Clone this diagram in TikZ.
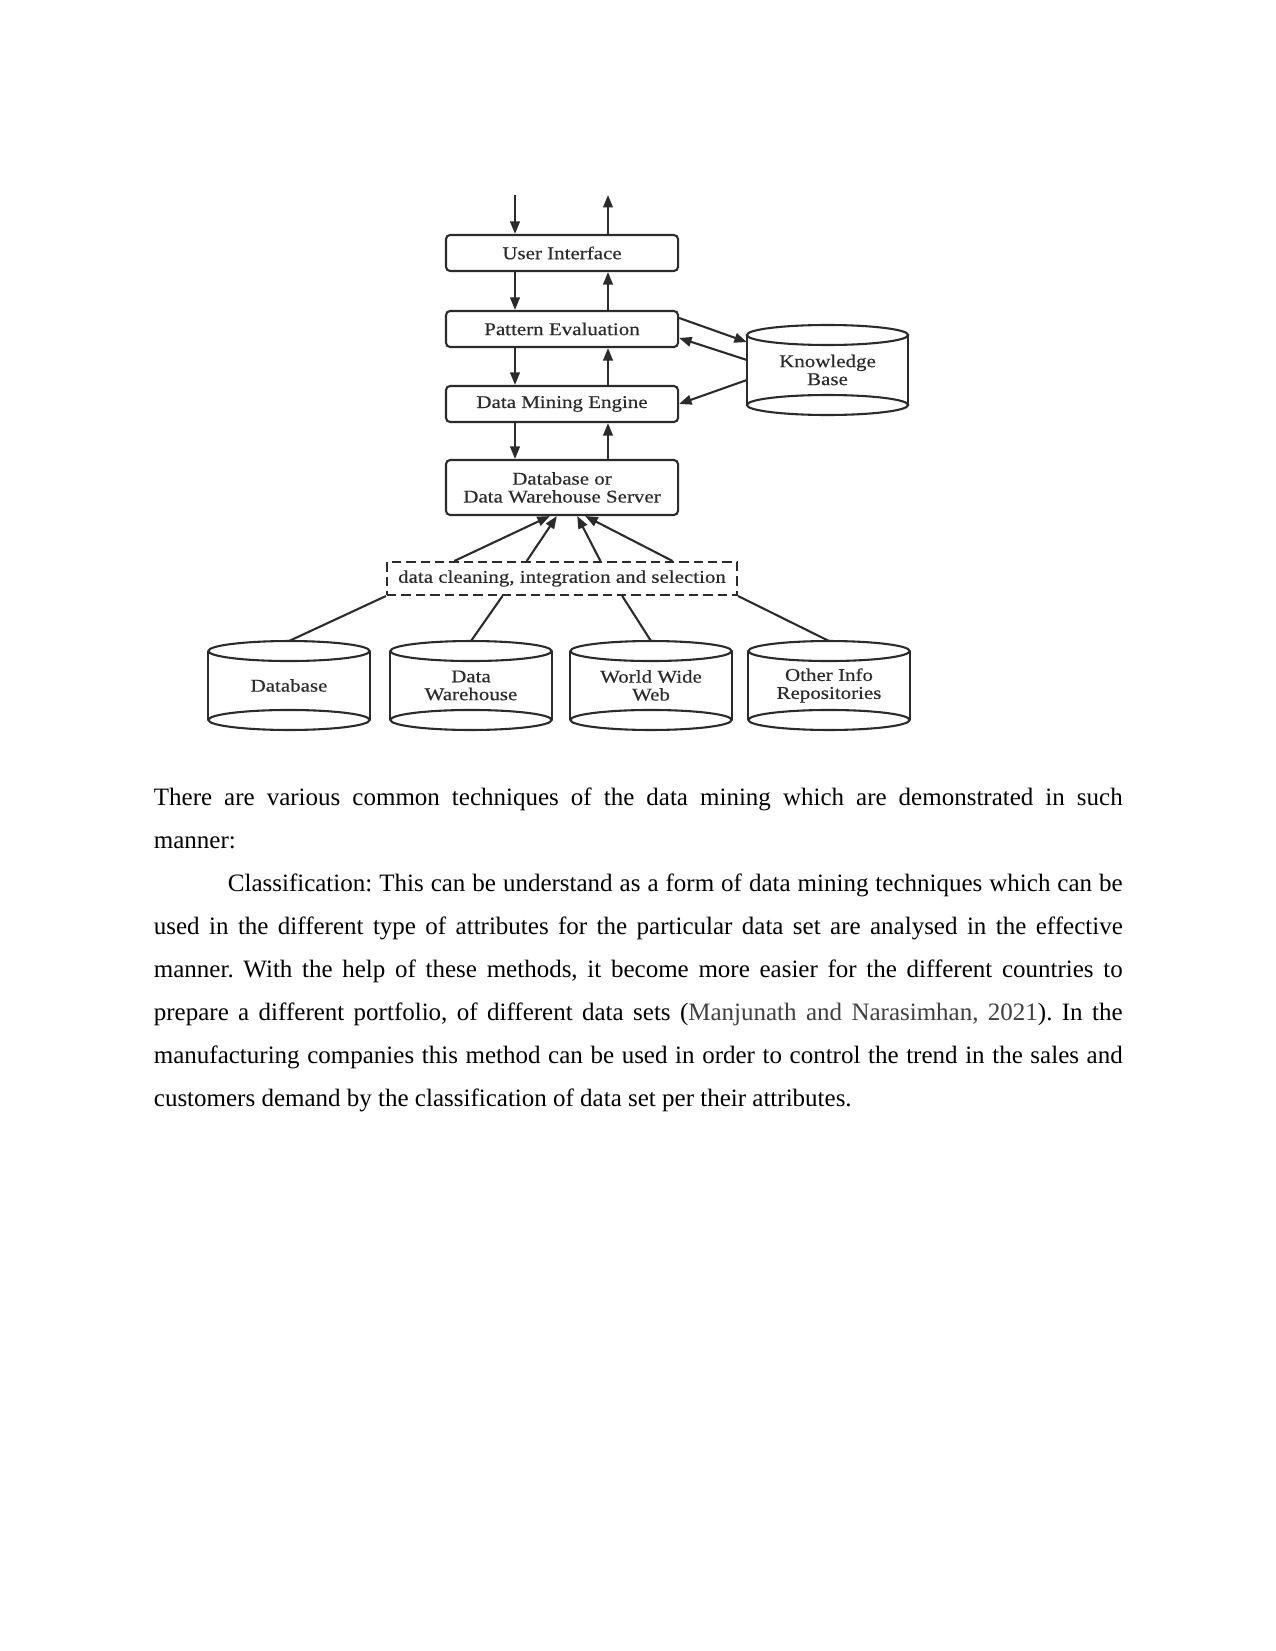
\documentclass[tikz,border=0pt]{standalone}
\usepackage{fontspec}
\setmainfont{Liberation Serif}
\newfontfamily\figfont[FakeStretch=1.17,FakeBold=0.4]{Liberation Serif}
\usepackage{xcolor}
\usetikzlibrary{arrows.meta, positioning, calc}
\definecolor{dmInk}{HTML}{2B2B2B}
\definecolor{dmCite}{HTML}{404040}
\frenchspacing

\begin{document}
\begin{tikzpicture}[
  x=0.48pt, y=-0.48pt,
  stage/.style={draw=dmInk, rounded corners=2pt, line width=1pt, minimum width=111.4pt,
                minimum height=#1, align=center, inner sep=1pt, text=dmInk,
                font=\figfont\fontsize{8.6}{8.6}\selectfont},
  stage/.default=17.3pt,
  store/.style={minimum width=77.4pt, minimum height=#1, align=center, inner sep=0pt,
                outer sep=0pt, text=dmInk, font=\figfont\fontsize{8.6}{8.6}\selectfont},
  flow/.style={draw=dmInk, line width=1pt, -{Triangle[length=6pt,width=4.6pt]}},
  link/.style={draw=dmInk, line width=1pt},
  para/.style={text width=465pt, align=justify, inner sep=0pt, anchor=base west,
               font=\fontsize{12}{20.64}\selectfont},
]
  \path[use as bounding box, fill=white] (0,0) rectangle (1275,1651);

  % mining stages
  \node[stage] (ui)  at (562,253) {User Interface};
  \node[stage] (pe)  at (562,329) {Pattern Evaluation};
  \node[stage] (dme) at (562,404) {Data Mining Engine};
  \node[stage=26.4pt] (srv) at (562,487.5) {Database or\\Data Warehouse Server};
  \node[store=43.2pt] (kb) at (827.5,370) {Knowledge\\Base};
  \node[draw=dmInk, line width=1pt, dash pattern=on 4.5pt off 2.4pt, minimum width=168pt,
        minimum height=15.8pt, inner sep=1pt, text=dmInk,
        font=\figfont\fontsize{8.6}{8.6}\selectfont] (clean) at (562,578.5)
        {data cleaning, integration and selection};

  % sources
  \node[store=42.7pt] (db)  at (289,685.5) {Database};
  \node[store=42.7pt] (dw)  at (471,685.5) {Data\\Warehouse};
  \node[store=42.7pt] (www) at (651,685.5) {World Wide\\Web};
  \node[store=42.7pt] (oir) at (829,685.5) {Other Info\\Repositories};

  \foreach \n in {kb,db,dw,www,oir}{
    \draw[link] ([yshift=-4.8pt]\n.north west) -- ([yshift=4.8pt]\n.south west)
                ([yshift=-4.8pt]\n.north east) -- ([yshift=4.8pt]\n.south east);
    \draw[link] ([yshift=-4.8pt]\n.north) ellipse [x radius=38.7pt, y radius=4.8pt]
                ([yshift=4.8pt]\n.south) ellipse [x radius=38.7pt, y radius=4.8pt];
  }

  % request / result flow
  \coordinate (usrin)  at (515,195);
  \coordinate (usrout) at (608,195);
  \draw[flow] (usrin) -- (usrin |- ui.north);
  \draw[flow] (ui.north -| usrout) -- (usrout);
  \foreach \a/\b in {ui/pe, pe/dme, dme/srv}{
    \draw[flow] (\a.south -| usrin) -- (\b.north -| usrin);
    \draw[flow] (\b.north -| usrout) -- (\a.south -| usrout);
  }

  \draw[flow] ([yshift=5.3pt]pe.east) -- ([yshift=13.4pt]kb.west);
  \draw[flow] ([yshift=4.8pt]kb.west) -- ([yshift=-4.3pt]pe.east);
  \draw[flow] ([yshift=-4.8pt]kb.west) -- (dme.east);

  \foreach \f/\t in {0.194/0.448, 0.40/0.478, 0.609/0.565, 0.814/0.599}
    \draw[flow] ($(clean.north west)!\f!(clean.north east)$) -- ($(srv.south west)!\t!(srv.south east)$);

  \draw[link] (clean.south west) -- (db.north);
  \draw[link] ($(clean.south west)!0.331!(clean.south east)$) -- (dw.north);
  \draw[link] ($(clean.south west)!0.671!(clean.south east)$) -- (www.north);
  \draw[link] (clean.south east) -- (oir.north);

  % body text
  \node[para] (body) at (153.5,805.7) {There are various common techniques of the data mining which are demonstrated in such\linebreak
    manner:\par
    \hspace*{35.5pt}Classification: This can be understand as a form of data mining techniques which can be\linebreak
    used in the different type of attributes for the particular data set are analysed in the effective\linebreak
    manner. With the help of these methods, it become more easier for the different countries to\linebreak
    prepare a different portfolio, of different data sets ({\color{dmCite}Manjunath and Narasimhan, 2021}). In the\linebreak
    manufacturing companies this method can be used in order to control the trend in the sales and\linebreak
    customers demand by the classification of data set per their attributes.};
\end{tikzpicture}
\end{document}
